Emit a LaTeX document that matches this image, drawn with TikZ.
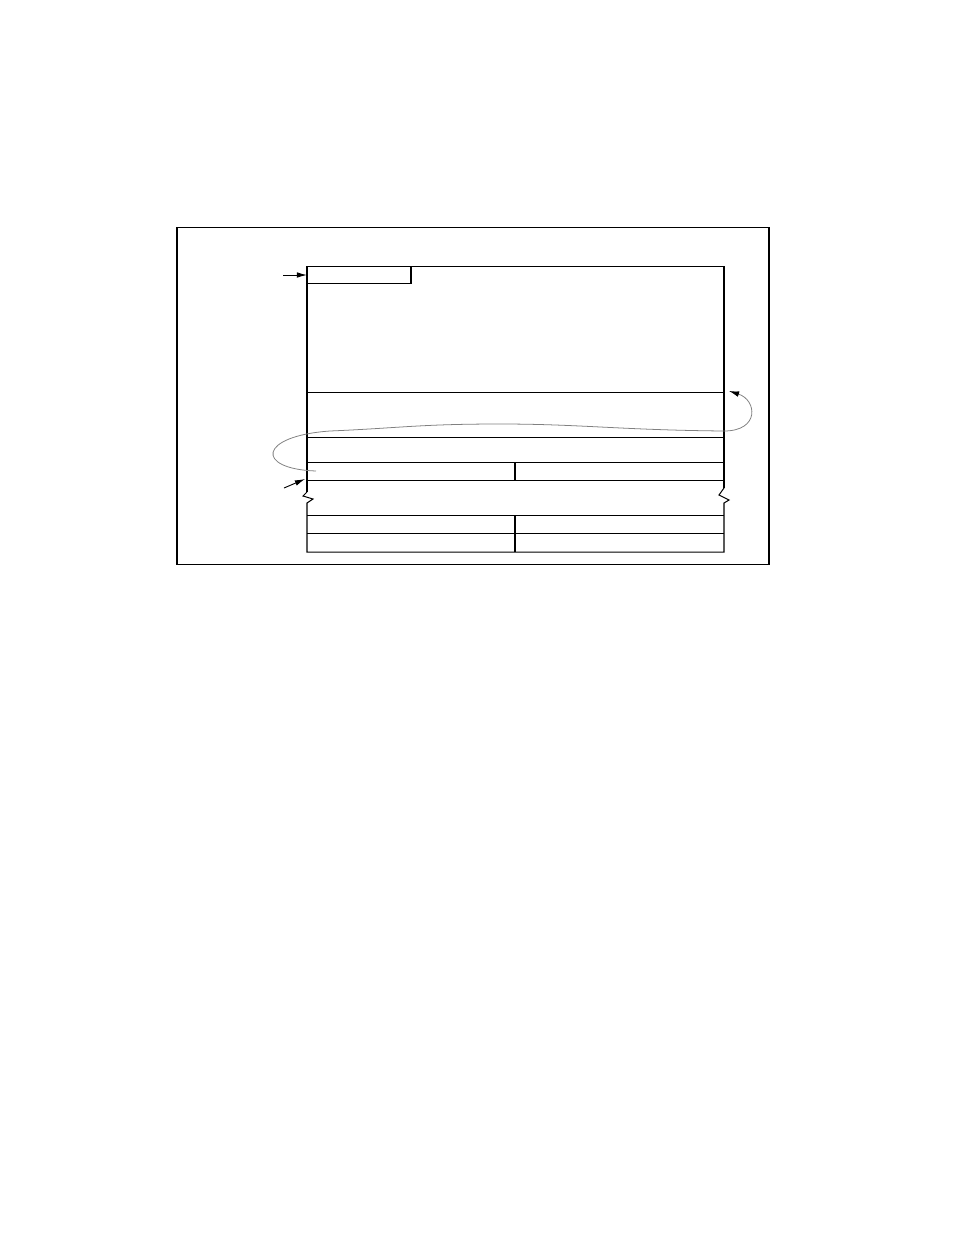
\documentclass[tikz,border=0pt]{standalone}
\usepackage{tikz}
\usetikzlibrary{arrows.meta}

\tikzset{
	rule/.style={line width=0.65pt},
	ptr/.style={line width=0.6pt, -{Latex[length=6.5pt,width=3.6pt]}},
	chain/.style={gray, line width=0.5pt, -{Latex[length=6.5pt,width=3.6pt,color=black]}},
}

\begin{document}
\begin{tikzpicture}[x=0.6415pt, y=-0.6415pt, rule]
	\useasboundingbox (0,0) rectangle (954,1235);

	\coordinate (frameNW) at (177,227);
	\coordinate (frameSE) at (769,564);
	\coordinate (boxNW) at (307,266);
	\coordinate (boxNE) at (724,266);
	\coordinate (boxSW) at (307,552);
	\coordinate (boxSE) at (724,552);
	\coordinate (tabSE) at (411,283);
	\coordinate (headtail) at (283,275);
	\coordinate (headtip) at (307,275);
	\coordinate (slottail) at (284,488);
	\coordinate (slottip) at (305,479);
	\coordinate (linkstart) at (316,471);
	\coordinate (linkend) at (729,391);

	% outer frame
	\draw (frameNW) rectangle (frameSE);

	% upper block, broken below
	\draw (307,492) -- (boxNW) -- (boxNE) -- (724,488);
	\draw (boxNW) rectangle (tabSE);
	\foreach \y in {392,437,462,480}
		\draw (307,\y) -- (724,\y);
	\draw (515,462) -- (515,480);

	% lower block
	\draw (307,492) -- (303,496) -- (313,499) -- (307,503) -- (boxSW)
		-- (boxSE) -- (724,503) -- (729,500) -- (719,495) -- (724,488);
	\draw (307,515) -- (724,515);
	\draw (307,533) -- (724,533);
	\draw (515,515) -- (515,552);

	% pointers
	\draw[ptr] (headtail) -- (headtip);
	\draw[ptr] (slottail) -- (slottip);
	\draw[chain] (linkstart) .. controls (255,469) and (258,436) .. (330,431)
		.. controls (400,428) and (420,424) .. (500,424)
		.. controls (580,424) and (620,430) .. (724,431)
		.. controls (760,431) and (757,400) .. (linkend);
\end{tikzpicture}
\end{document}
